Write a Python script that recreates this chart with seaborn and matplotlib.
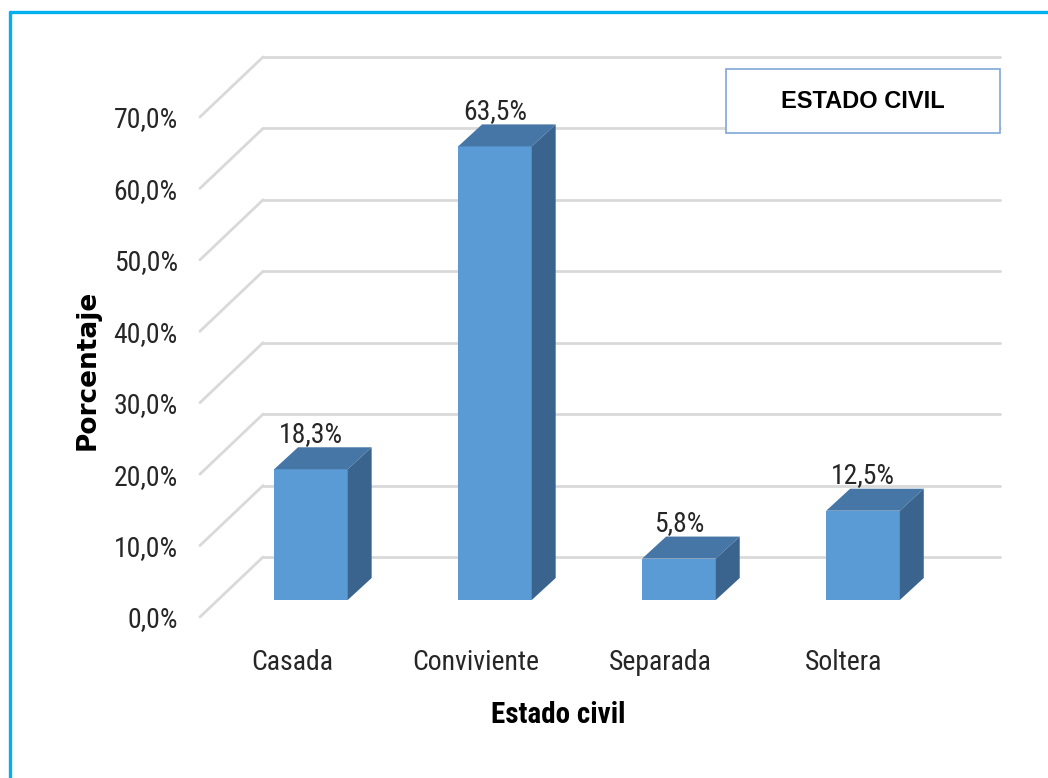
import matplotlib
matplotlib.use('Agg')
import matplotlib.pyplot as plt
from matplotlib import font_manager
from matplotlib.patches import Polygon, Rectangle
from matplotlib.lines import Line2D
from matplotlib.transforms import ScaledTranslation
import pandas as pd
import seaborn as sns

# data
categories = ['Casada', 'Conviviente', 'Separada', 'Soltera']
porcentaje = [18.3, 63.5, 5.8, 12.5]
yticks = [0, 10, 20, 30, 40, 50, 60, 70]

# settings
sns.set_style('white')
names = {f.name for f in font_manager.fontManager.ttflist}
narrow = next((n for n in ['Roboto Condensed', 'Archivo Narrow', 'Sofia Sans Condensed',
                           'Liberation Sans Narrow', 'Liberation Sans'] if n in names), 'DejaVu Sans')
plt.rcParams['font.family'] = [narrow, 'DejaVu Sans']

front_col = '#5B9BD5'
top_col = '#4676A6'
side_col = '#3A648D'
grid_col = '#D9D9D9'
text_col = '#262626'

# fake 3d depth (data units)
bdx, bdy = 0.13, 3.08      # bar depth
wdx, wdy = 0.245, 6.02     # back wall
fdx, fdy = -0.098, -2.38   # front edge of floor
x0, x1 = -0.505, 3.5

fig = plt.figure(figsize=(10.48, 7.78), dpi=100)
ax = fig.add_axes([0.208, 0.2288, 0.7033, 0.6427])
df = pd.DataFrame({'estado': categories, 'pct': porcentaje})
sns.barplot(data=df, x='estado', y='pct', color=front_col, width=0.4,
            saturation=1, ax=ax, zorder=3, linewidth=0)
ax.set_xlim(x0, x1)
ax.set_ylim(0, 70)

# walls
for v in yticks:
    ax.plot([x0 + wdx, x1 + wdx], [v + wdy, v + wdy], color=grid_col, lw=2, clip_on=False, zorder=1)
    ax.plot([x0 + fdx, x0 + wdx], [v + fdy, v + wdy], color=grid_col, lw=2, clip_on=False, zorder=1)

# top / side faces and labels
for p in ax.patches[:len(porcentaje)]:
    x, w, h = p.get_x(), p.get_width(), p.get_height()
    ax.add_patch(Polygon([(x, h), (x + w, h), (x + w + bdx, h + bdy), (x + bdx, h + bdy)],
                         closed=True, facecolor=top_col, edgecolor='none', zorder=3, clip_on=False))
    ax.add_patch(Polygon([(x + w, 0), (x + w + bdx, bdy), (x + w + bdx, h + bdy), (x + w, h)],
                         closed=True, facecolor=side_col, edgecolor='none', zorder=3, clip_on=False))
    ax.text(x + w / 2, h + 4.9, f'{h:.1f}%'.replace('.', ','), ha='center', va='center',
            fontsize=20, color=text_col, zorder=5)

ax.set_yticks(yticks)
ax.set_yticklabels([f'{v:.1f}%'.replace('.', ',') for v in yticks], fontsize=20, color=text_col)
ax.set_xticks(range(len(categories)))
ax.set_xticklabels(categories, fontsize=20, color=text_col)
ax.tick_params(axis='y', length=0, pad=29)
ax.tick_params(axis='x', length=0, pad=35)
for lab in ax.get_yticklabels():
    lab.set_transform(lab.get_transform() + ScaledTranslation(0, -0.17, fig.dpi_scale_trans))
for lab in ax.get_xticklabels():
    lab.set_transform(lab.get_transform() + ScaledTranslation(-0.19, 0, fig.dpi_scale_trans))
ax.set_xlabel('')
ax.set_ylabel('')
for s in ax.spines.values():
    s.set_visible(False)

fig.text(88 / 1048, 1 - 370 / 778, 'Porcentaje', rotation=90, ha='center', va='center',
         fontsize=19, fontweight='bold', family='DejaVu Sans', color='black')
fig.text(558 / 1048, 1 - 715 / 778, 'Estado civil', ha='center', va='center',
         fontsize=21, fontweight='bold', color='black')

# title box
fig.patches.append(Rectangle((726 / 1048, 1 - 133 / 778), 274 / 1048, 64 / 778,
                             transform=fig.transFigure, facecolor='white',
                             edgecolor='#7FA8D8', lw=1.2, zorder=5))
fig.text(863 / 1048, 1 - 101 / 778, 'ESTADO CIVIL', ha='center', va='center',
         fontsize=17, fontweight='bold', family='Liberation Sans', color='black', zorder=6)

# outer frame
fig.lines.append(Line2D([10 / 1048, 10 / 1048], [0, 1 - 12 / 778], transform=fig.transFigure,
                        color='#00B0F0', lw=2.4))
fig.lines.append(Line2D([10 / 1048, 1], [1 - 12 / 778, 1 - 12 / 778], transform=fig.transFigure,
                        color='#00B0F0', lw=2.4))

fig.savefig('out.png', dpi=100)
